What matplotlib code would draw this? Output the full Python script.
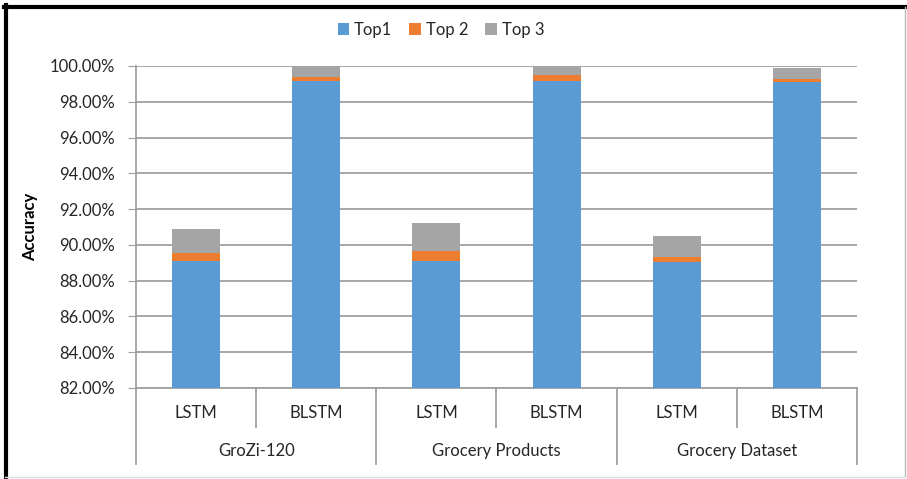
import matplotlib
matplotlib.use("Agg")
import matplotlib.pyplot as plt
from matplotlib.lines import Line2D
from matplotlib.ticker import FuncFormatter
import numpy as np

plt.rcParams['font.family'] = ['Lato', 'DejaVu Sans']

datasets = ['GroZi-120', 'Grocery Products', 'Grocery Dataset']
models = ['LSTM', 'BLSTM']
series = ['Top1', 'Top 2', 'Top 3']
top1 = [89.10, 99.16, 89.10, 99.18, 89.03, 99.11]
top2 = [0.43, 0.23, 0.56, 0.32, 0.31, 0.15]
top3 = [1.38, 0.61, 1.55, 0.50, 1.16, 0.61]
colors = ['#5B9BD5', '#ED7D31', '#A5A5A5']

W, H = 907, 479
fig = plt.figure(figsize=(W / 100, H / 100), dpi=100)
ax = fig.add_axes([136 / W, 1 - 388 / H, (857 - 136) / W, (388 - 66) / H])

x = np.arange(len(top1))
b1 = np.array(top1)
b2 = b1 + np.array(top2)
ax.bar(x, top1, width=0.4, color=colors[0], label=series[0], zorder=3)
ax.bar(x, top2, width=0.4, bottom=b1, color=colors[1], label=series[1], zorder=3)
ax.bar(x, top3, width=0.4, bottom=b2, color=colors[2], label=series[2], zorder=3)

ax.set_ylim(82, 100)
ax.set_xlim(-0.5, len(top1) - 0.5)
ax.set_yticks(np.arange(82, 100.1, 2))
ax.yaxis.set_major_formatter(FuncFormatter(lambda v, p: f"{v:.2f}%"))
ax.grid(axis='y', color='#A0A0A0', lw=1.3, zorder=0)
ax.set_axisbelow(True)
for s in ['top', 'right']:
    ax.spines[s].set_visible(False)
ax.spines['left'].set_color('#A0A0A0')
ax.spines['bottom'].set_color('#A0A0A0')
ax.spines['left'].set_linewidth(1.3)
ax.spines['bottom'].set_linewidth(1.3)
ax.tick_params(axis='y', length=6, color='#A0A0A0', labelsize=12, labelcolor='#262626', pad=9)
ax.tick_params(axis='x', length=0, labelbottom=False)
ax.set_ylabel('Accuracy', fontsize=12, fontweight='bold')
ax.yaxis.set_label_coords(-(136 - 38) / 721, 0.5)

# multi-level category axis
trans = ax.get_xaxis_transform()
y_inner = -(427 - 388) / 322
y_outer = -(464 - 388) / 322
for i in range(len(top1)):
    ax.text(x[i], -(413 - 388) / 322, models[i % 2], transform=trans,
            ha='center', va='center', fontsize=12, color='#262626')
for j, d in enumerate(datasets):
    ax.text(2 * j + 0.5, -(451 - 388) / 322, d, transform=trans,
            ha='center', va='center', fontsize=12, color='#262626')
    ax.add_line(Line2D([2 * j + 0.5] * 2, [0, y_inner], transform=trans,
                       color='#A0A0A0', lw=1.3, clip_on=False))
for k in range(len(datasets) + 1):
    ax.add_line(Line2D([2 * k - 0.5] * 2, [0, y_outer], transform=trans,
                       color='#A0A0A0', lw=1.3, clip_on=False))

leg = fig.legend(loc='center', bbox_to_anchor=(0.486, 1 - 30 / H), ncol=3,
                 frameon=False, fontsize=12, handlelength=0.7, handleheight=0.7,
                 handletextpad=0.3, columnspacing=1.0)
for t in leg.get_texts():
    t.set_color('#262626')

# figure frame
fig.add_artist(Line2D([5.5 / W, 5.5 / W], [1 - 5 / H, 1 - 477 / H], color='black', lw=3.0, transform=fig.transFigure))
fig.add_artist(Line2D([4 / W, 906 / W], [1 - 7 / H, 1 - 7 / H], color='black', lw=3.0, transform=fig.transFigure))
fig.add_artist(Line2D([905 / W, 905 / W], [1 - 7 / H, 1 - 477 / H], color='#BBBBBB', lw=1.0, transform=fig.transFigure))
fig.add_artist(Line2D([5 / W, 905 / W], [1 - 477 / H, 1 - 477 / H], color='#DDDDDD', lw=1.0, transform=fig.transFigure))

fig.savefig('out.png', dpi=100)
